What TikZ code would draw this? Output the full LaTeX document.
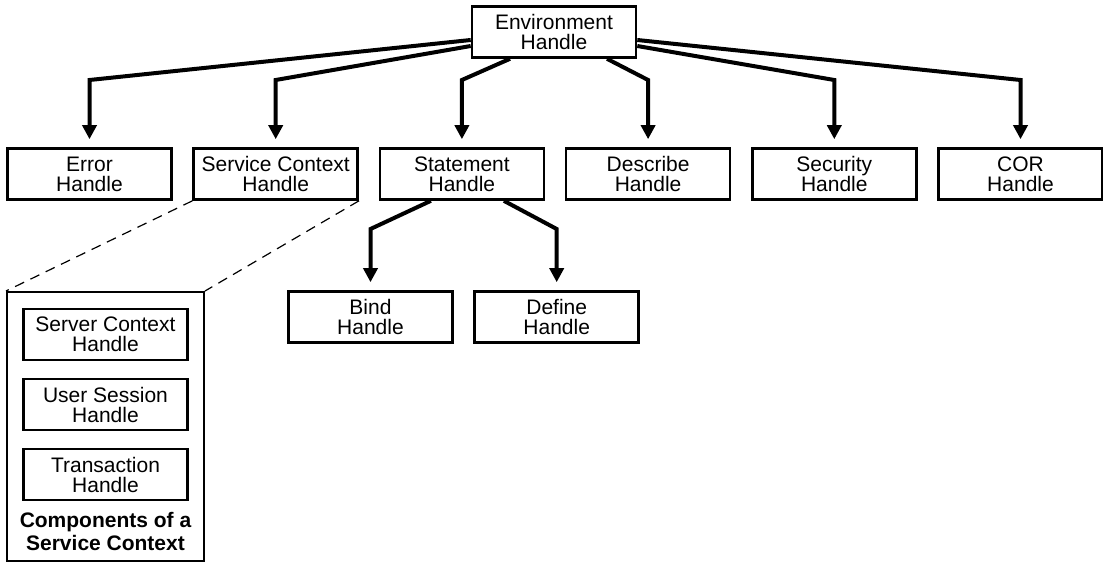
\documentclass[tikz,border=0pt]{standalone}
\usepackage{fontspec}
\setmainfont{Liberation Sans}
\usepackage{tikz}
\usetikzlibrary{positioning}
\usetikzlibrary{arrows.meta}
\tikzset{edge/.style = {-{Triangle[width=7pt,length=7pt]}, line width=2pt, shorten >=4pt}}

\begin{document}
\begin{tikzpicture}[x=0.5pt,y=-0.5pt,node distance=93.1pt,
    handle/.style={rectangle,draw,line width=1.3pt,minimum width=82pt,minimum height=25.5pt,inner sep=0pt,align=center,font=\fontsize{10.5}{10}\selectfont}]
    \useasboundingbox (0,0) rectangle (1103,562);

    \node[handle] (env) at (554,32) {Environment\\Handle};

    \node[handle] (err) at (89.5,174) {Error\\Handle};
    \node[handle] (svc) [right of=err] {Service Context\\Handle};
    \node[handle] (stmt) [right of=svc] {Statement\\Handle};
    \node[handle] (desc) [right of=stmt] {Describe\\Handle};
    \node[handle] (sec) [right of=desc] {Security\\Handle};
    \node[handle] (cor) [right of=sec] {COR\\Handle};

    \node[handle] (bind) at (370.5,317) {Bind\\Handle};
    \node[handle] (def) [right of=bind] {Define\\Handle};

    \coordinate (lvl) at (0,80);
    \coordinate (lvl2) at (0,229);

    \draw[edge] ([yshift=-4pt]env.west) -- (lvl -| err) -- (err);
    \draw[edge] ([yshift=-7pt]env.west) -- (lvl -| svc) -- (svc);
    \draw[edge] ([xshift=-22pt]env.south) -- (lvl -| stmt) -- (stmt);
    \draw[edge] ([xshift=26.5pt]env.south) -- (lvl -| desc) -- (desc);
    \draw[edge] ([yshift=-7pt]env.east) -- (lvl -| sec) -- (sec);
    \draw[edge] ([yshift=-4pt]env.east) -- (lvl -| cor) -- (cor);

    \draw[edge] ([xshift=-15.5pt]stmt.south) -- (lvl2 -| bind) -- (bind);
    \draw[edge] ([xshift=21pt]stmt.south) -- (lvl2 -| def) -- (def);

    % service context components
    \node[draw,line width=1pt,minimum width=98.5pt,minimum height=134.5pt,inner sep=0pt] (comp) at (105.5,426.5) {};
    \node[handle] (srv) at (105.5,334.5) {Server Context\\Handle};
    \node[handle] (usr) at (105.5,404.5) {User Session\\Handle};
    \node[handle] (trx) at (105.5,474.5) {Transaction\\Handle};
    \node[align=center,inner sep=0pt,font=\bfseries\fontsize{10.5}{11.5}\selectfont] (cap) at (105.5,531) {Components of a\\Service Context};

    \draw[dash pattern=on 5pt off 3.5pt,line width=0.6pt] (svc.south west) -- (comp.north west);
    \draw[dash pattern=on 5pt off 3.5pt,line width=0.6pt] (svc.south east) -- (comp.north east);

\end{tikzpicture}
\end{document}
